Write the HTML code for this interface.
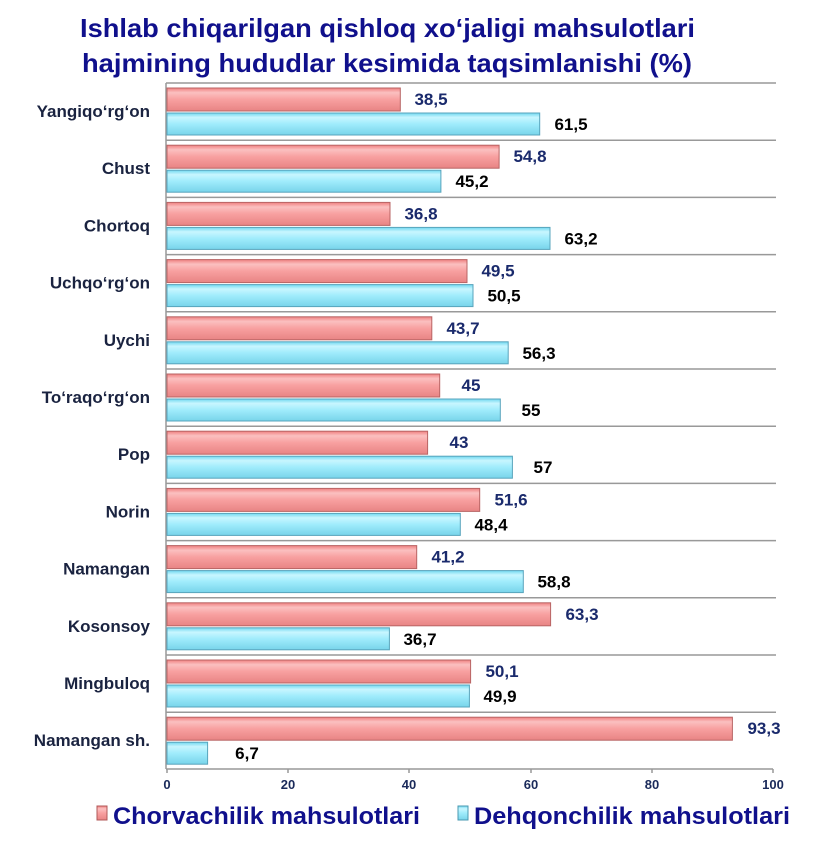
<!DOCTYPE html>
<html><head><meta charset="utf-8"><style>
html,body{margin:0;padding:0;background:#fff;}
svg{display:block;font-family:"Liberation Sans",sans-serif;font-weight:bold;}
</style></head><body>
<svg width="834" height="844" viewBox="0 0 834 844" xmlns="http://www.w3.org/2000/svg">
<defs>
<linearGradient id="r" x1="0" y1="0" x2="0" y2="1">
<stop offset="0" stop-color="#f08080"/><stop offset="0.2" stop-color="#fbc0c0"/><stop offset="0.5" stop-color="#f8a0a0"/><stop offset="1" stop-color="#e88484"/></linearGradient>
<linearGradient id="b" x1="0" y1="0" x2="0" y2="1">
<stop offset="0" stop-color="#70d8f0"/><stop offset="0.2" stop-color="#c8f6ff"/><stop offset="0.5" stop-color="#a0ecfc"/><stop offset="1" stop-color="#78d4ea"/></linearGradient>
</defs>
<text x="80" y="37" font-size="26" fill="#10108c" textLength="615" lengthAdjust="spacingAndGlyphs">Ishlab chiqarilgan qishloq xo‘jaligi mahsulotlari</text>
<text x="82" y="72" font-size="26" fill="#10108c" textLength="610" lengthAdjust="spacingAndGlyphs">hajmining hududlar kesimida taqsimlanishi (%)</text>

<g stroke="#999" stroke-width="1.5">
<line x1="166" y1="83" x2="776" y2="83"/><line x1="166" y1="140.2" x2="776" y2="140.2"/><line x1="166" y1="197.4" x2="776" y2="197.4"/><line x1="166" y1="254.6" x2="776" y2="254.6"/><line x1="166" y1="311.8" x2="776" y2="311.8"/><line x1="166" y1="369" x2="776" y2="369"/><line x1="166" y1="426.2" x2="776" y2="426.2"/><line x1="166" y1="483.4" x2="776" y2="483.4"/><line x1="166" y1="540.6" x2="776" y2="540.6"/><line x1="166" y1="597.8" x2="776" y2="597.8"/><line x1="166" y1="655" x2="776" y2="655"/><line x1="166" y1="712.2" x2="776" y2="712.2"/>
<line x1="166" y1="83" x2="166" y2="769"/><line x1="166" y1="769" x2="773" y2="769"/>
<line x1="167" y1="769" x2="167" y2="773"/><line x1="288" y1="769" x2="288" y2="773"/><line x1="409" y1="769" x2="409" y2="773"/><line x1="531" y1="769" x2="531" y2="773"/><line x1="652" y1="769" x2="652" y2="773"/><line x1="773" y1="769" x2="773" y2="773"/>
</g>

<g stroke="#b86464" stroke-width="1" fill="url(#r)">
<rect x="167" y="88" width="233.3" height="23"/>
<rect x="167" y="145.2" width="332.1" height="23"/>
<rect x="167" y="202.4" width="223" height="23"/>
<rect x="167" y="259.6" width="300" height="23"/>
<rect x="167" y="316.8" width="264.8" height="23"/>
<rect x="167" y="374" width="272.7" height="23"/>
<rect x="167" y="431.2" width="260.6" height="23"/>
<rect x="167" y="488.4" width="312.7" height="23"/>
<rect x="167" y="545.6" width="249.7" height="23"/>
<rect x="167" y="602.8" width="383.6" height="23"/>
<rect x="167" y="660" width="303.6" height="23"/>
<rect x="167" y="717.2" width="565.4" height="23"/>
</g>
<g stroke="#58a4bc" stroke-width="1" fill="url(#b)">
<rect x="167" y="113" width="372.7" height="22"/>
<rect x="167" y="170.2" width="273.9" height="22"/>
<rect x="167" y="227.4" width="383" height="22"/>
<rect x="167" y="284.6" width="306" height="22"/>
<rect x="167" y="341.8" width="341.2" height="22"/>
<rect x="167" y="399" width="333.3" height="22"/>
<rect x="167" y="456.2" width="345.4" height="22"/>
<rect x="167" y="513.4" width="293.3" height="22"/>
<rect x="167" y="570.6" width="356.3" height="22"/>
<rect x="167" y="627.8" width="222.4" height="22"/>
<rect x="167" y="685" width="302.4" height="22"/>
<rect x="167" y="742.2" width="40.6" height="22"/>
</g>

<g font-size="17" fill="#1a2a6c" text-anchor="middle">
<text x="431" y="105">38,5</text>
<text x="530" y="162.2">54,8</text>
<text x="421" y="219.4">36,8</text>
<text x="498" y="276.6">49,5</text>
<text x="463" y="333.8">43,7</text>
<text x="471" y="391">45</text>
<text x="459" y="448.2">43</text>
<text x="511" y="505.4">51,6</text>
<text x="448" y="562.6">41,2</text>
<text x="582" y="619.8">63,3</text>
<text x="502" y="677">50,1</text>
<text x="764" y="734.2">93,3</text>
</g>
<g font-size="17" fill="#000" text-anchor="middle">
<text x="571" y="130">61,5</text>
<text x="472" y="187.2">45,2</text>
<text x="581" y="244.4">63,2</text>
<text x="504" y="301.6">50,5</text>
<text x="539" y="358.8">56,3</text>
<text x="531" y="416">55</text>
<text x="543" y="473.2">57</text>
<text x="491" y="530.4">48,4</text>
<text x="554" y="587.6">58,8</text>
<text x="420" y="644.8">36,7</text>
<text x="500" y="702">49,9</text>
<text x="247" y="759.2">6,7</text>
</g>
<g font-size="17" fill="#1a2340" text-anchor="end">
<text x="150" y="117">Yangiqo‘rg‘on</text>
<text x="150" y="174.2">Chust</text>
<text x="150" y="231.4">Chortoq</text>
<text x="150" y="288.6">Uchqo‘rg‘on</text>
<text x="150" y="345.8">Uychi</text>
<text x="150" y="403">To‘raqo‘rg‘on</text>
<text x="150" y="460.2">Pop</text>
<text x="150" y="517.4">Norin</text>
<text x="150" y="574.6">Namangan</text>
<text x="150" y="631.8">Kosonsoy</text>
<text x="150" y="689">Mingbuloq</text>
<text x="150" y="746.2">Namangan sh.</text>
</g>
<g font-size="13" fill="#1a2a5a" text-anchor="middle">
<text x="167" y="789">0</text><text x="288" y="789">20</text><text x="409" y="789">40</text><text x="531" y="789">60</text><text x="652" y="789">80</text><text x="773" y="789">100</text>
</g>
<rect x="97" y="806" width="10" height="14" fill="url(#r)" stroke="#b05858"/>
<text x="113" y="824" font-size="24" fill="#10108c" textLength="307" lengthAdjust="spacingAndGlyphs">Chorvachilik mahsulotlari</text>
<rect x="458" y="806" width="10" height="14" fill="url(#b)" stroke="#4a98b0"/>
<text x="474" y="824" font-size="24" fill="#10108c" textLength="316" lengthAdjust="spacingAndGlyphs">Dehqonchilik mahsulotlari</text>
</svg>
</body></html>
